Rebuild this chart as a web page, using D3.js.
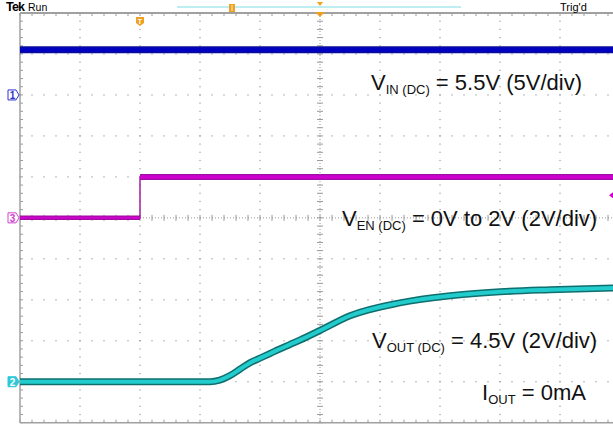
<!DOCTYPE html>
<html><head><meta charset="utf-8">
<script src="https://cdn.jsdelivr.net/npm/d3@7"></script>
<style>html,body{margin:0;padding:0;background:#fff;}svg{display:block;}</style>
</head><body>
<svg id="c" width="613" height="425"></svg>
<script>
// ---- data (time in divisions, trigger at 0; voltages in volts) ----
const ch1Time = [-5, 5];
const ch1Volts = [5.5, 5.5];               // VIN, 5 V/div
const ch3Time = [-5, -3, -3, 5];
const ch3Volts = [0, 0, 2, 2];             // VEN, 2 V/div
const ch2Time = [-5, -1.83, -1.67, -1.5, -1.33, -1.17, -1.0, -0.83, -0.67, -0.5, -0.33, 0, 0.5, 1.33, 2.17, 3.0, 3.83, 4.9];
const ch2Volts = [0, 0, 0.08, 0.3, 0.62, 0.92, 1.15, 1.38, 1.6, 1.82, 2.04, 2.5, 3.22, 3.85, 4.2, 4.39, 4.49, 4.58]; // VOUT, 2 V/div
const ch1Scale = 5, ch1Offset = 3;   // ground position in divisions from centre
const ch2Scale = 2, ch2Offset = -4;
const ch3Scale = 2, ch3Offset = 0;
const annotations = [
  {main: "V", sub: "IN (DC)", rest: " = 5.5V (5V/div)"},
  {main: "V", sub: "EN (DC)", rest: " = 0V to 2V (2V/div)"},
  {main: "V", sub: "OUT (DC)", rest: " = 4.5V (2V/div)"},
  {main: "I", sub: "OUT", rest: " = 0mA"}
];
const annPos = [[371, 90], [342, 226], [372, 348], [482, 400]];

const svg = d3.select("#c");
const x = d3.scaleLinear().domain([-5, 5]).range([20, 620]);
const y = d3.scaleLinear().domain([-5, 5]).range([422.7, 13]);
const gridCol = "#9a9a9a";

// dotted grid
const minor = d3.range(-5, 5.001, 0.2).map(v => Math.round(v * 10) / 10);
const g = svg.append("g");
for (let d = -4; d <= 4; d++) {
  if (d === 0) continue;
  minor.forEach(m => {
    g.append("rect").attr("x", x(d) - 0.6).attr("y", y(m) - 0.6).attr("width", 1.2).attr("height", 1.2).attr("fill", gridCol);
    g.append("rect").attr("x", x(m) - 0.6).attr("y", y(d) - 0.6).attr("width", 1.2).attr("height", 1.2).attr("fill", gridCol);
  });
}
// centre lines with ticks
g.append("line").attr("x1", x(0)).attr("x2", x(0)).attr("y1", y(5)).attr("y2", y(-5)).attr("stroke", gridCol).attr("stroke-dasharray", "1,2").attr("stroke-width", 1);
g.append("line").attr("x1", x(-5)).attr("x2", x(5)).attr("y1", y(0)).attr("y2", y(0)).attr("stroke", gridCol).attr("stroke-dasharray", "1,2").attr("stroke-width", 1);
minor.forEach(m => {
  g.append("line").attr("x1", x(0) - 3).attr("x2", x(0) + 3).attr("y1", y(m)).attr("y2", y(m)).attr("stroke", gridCol);
  g.append("line").attr("x1", x(m)).attr("x2", x(m)).attr("y1", y(0) - 3).attr("y2", y(0) + 3).attr("stroke", gridCol);
  g.append("line").attr("x1", x(m)).attr("x2", x(m)).attr("y1", y(5)).attr("y2", y(5) + 3).attr("stroke", gridCol);
  g.append("line").attr("x1", x(m)).attr("x2", x(m)).attr("y1", y(-5)).attr("y2", y(-5) - 3).attr("stroke", gridCol);
  g.append("line").attr("x1", x(-5)).attr("x2", x(-5) + 3).attr("y1", y(m)).attr("y2", y(m)).attr("stroke", gridCol);
});
// borders
g.append("line").attr("x1", x(-5)).attr("x2", 613).attr("y1", y(5)).attr("y2", y(5)).attr("stroke", "#a0a0a0").attr("stroke-width", 2);
g.append("line").attr("x1", x(-5)).attr("x2", 613).attr("y1", y(-5)).attr("y2", y(-5)).attr("stroke", "#a0a0a0").attr("stroke-width", 1.5);
g.append("line").attr("x1", x(-5)).attr("x2", x(-5)).attr("y1", y(5)).attr("y2", y(-5)).attr("stroke", "#a0a0a0").attr("stroke-width", 1.5);

// traces
const line = (scale, off) => d3.line().x(d => x(d[0])).y(d => y(d[1] / scale + off));
const z = (t, v) => t.map((tt, i) => [tt, v[i]]);
const ch1 = z(ch1Time, ch1Volts), ch2 = z(ch2Time, ch2Volts), ch3 = z(ch3Time, ch3Volts);
svg.append("path").datum(ch1).attr("d", line(ch1Scale, ch1Offset)).attr("fill", "none").attr("stroke", "#0c0c9c").attr("stroke-width", 7);
svg.append("path").datum(ch1).attr("d", line(ch1Scale, ch1Offset)).attr("fill", "none").attr("stroke", "#0000c0").attr("stroke-width", 4);
// ch3: thin edge, thick flat levels
svg.append("path").datum(ch3).attr("d", line(ch3Scale, ch3Offset)).attr("fill", "none").attr("stroke", "#a020a0").attr("stroke-width", 1.5);
const levels = d3.pairs(ch3).filter(p => p[0][1] === p[1][1] && p[0][0] !== p[1][0]);
levels.forEach(p => {
  const w = p[0][1] > 0 ? 6 : 4.5;
  svg.append("path").datum(p).attr("d", line(ch3Scale, ch3Offset)).attr("fill", "none").attr("stroke", "#a010a0").attr("stroke-width", w);
  svg.append("path").datum(p).attr("d", line(ch3Scale, ch3Offset)).attr("fill", "none").attr("stroke", "#d000d0").attr("stroke-width", w - 2.5);
});
svg.append("path").datum(ch2).attr("d", line(ch2Scale, ch2Offset).curve(d3.curveMonotoneX)).attr("fill", "none").attr("stroke", "#0f6e6e").attr("stroke-width", 7);
svg.append("path").datum(ch2).attr("d", line(ch2Scale, ch2Offset).curve(d3.curveMonotoneX)).attr("fill", "none").attr("stroke", "#22cccc").attr("stroke-width", 4);

// channel markers
function marker(label, yy, col, filled) {
  const mg = svg.append("g").attr("transform", `translate(8,${yy})`);
  mg.append("path").attr("d", "M0,-5 L8,-5 L11,0 L8,5 L0,5 Z").attr("fill", filled ? col : "#fff").attr("stroke", col).attr("stroke-width", 1);
  mg.append("text").attr("x", 4.5).attr("y", 4).attr("text-anchor", "middle").attr("font-family", "Liberation Sans, Arial").attr("font-size", 10).attr("font-weight", "bold").attr("fill", filled ? "#fff" : col).text(label);
}
marker("1", y(ch1Offset), "#3030d0", false);
marker("3", y(ch3Offset), "#d040d0", false);
marker("2", y(ch2Offset), "#30c8d8", true);
svg.append("path").attr("d", `M613,${y(0.55)-3} L609,${y(0.55)} L613,${y(0.55)+3} Z`).attr("fill", "#d000d0");

// header
svg.append("line").attr("x1", 177).attr("x2", 461).attr("y1", 7).attr("y2", 7).attr("stroke", "#80dde6").attr("stroke-width", 1.2);
svg.append("text").attr("x", 6).attr("y", 11).attr("font-family", "Liberation Sans, Arial").attr("font-size", 12.5).attr("font-weight", "bold").attr("letter-spacing", -0.8).text("Tek");
svg.append("text").attr("x", 28).attr("y", 11).attr("font-family", "Liberation Sans, Arial").attr("font-size", 10.5).text("Run");
svg.append("text").attr("x", 560).attr("y", 11).attr("font-family", "Liberation Sans, Arial").attr("font-size", 11).text("Trig'd");
const orange = "#f0a020";
svg.append("path").attr("d", `M${x(-3)-4},17 L${x(-3)+4},17 L${x(-3)+4},23 L${x(-3)},26 L${x(-3)-4},23 Z`).attr("fill", orange);
svg.append("text").attr("x", x(-3)).attr("y", 23.5).attr("text-anchor", "middle").attr("font-family", "Liberation Sans, Arial").attr("font-size", 7).attr("font-weight", "bold").attr("fill", "#fff").text("T");
svg.append("rect").attr("x", 229).attr("y", 4).attr("width", 6).attr("height", 8).attr("fill", orange);
svg.append("line").attr("x1", 232).attr("x2", 232).attr("y1", 5).attr("y2", 11).attr("stroke", "#fff").attr("stroke-width", 0.8);
svg.append("path").attr("d", `M${x(0)-3},2 L${x(0)+3},2 L${x(0)},6 Z`).attr("fill", orange);
svg.append("path").attr("d", `M${x(0)-5},12 L${x(0)+5},12 L${x(0)},17 Z`).attr("fill", orange);

// annotations
annotations.forEach((a, i) => {
  const t = svg.append("text").attr("x", annPos[i][0]).attr("y", annPos[i][1]).attr("font-family", "Liberation Sans, Arial").attr("font-size", 22).attr("fill", "#111");
  t.append("tspan").text(a.main);
  t.append("tspan").attr("font-size", 13).attr("dy", 4).text(a.sub);
  t.append("tspan").attr("dy", -4).text(a.rest);
});
</script>
</body></html>
